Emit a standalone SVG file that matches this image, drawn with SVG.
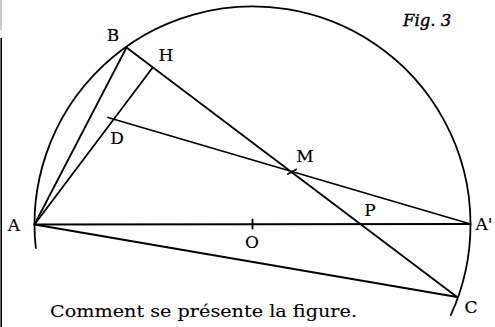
<svg xmlns="http://www.w3.org/2000/svg" width="495" height="327" viewBox="0 0 495 327">
<style>
.ln{stroke:#000;stroke-width:1.8;fill:none;stroke-linecap:round}
.lbl{font-family:"DejaVu Serif","Liberation Serif",serif;font-size:17px;fill:#000;stroke:#000;stroke-width:0.2;text-anchor:middle}
.cap{font-family:"DejaVu Serif","Liberation Serif",serif;font-size:17px;fill:#000;stroke:#000;stroke-width:0.1}
.fig{font-family:"DejaVu Serif","Liberation Serif",serif;font-size:16.5px;font-style:italic;fill:#000;stroke:#000;stroke-width:0.4}
</style>
<rect width="495" height="327" fill="#fff"/>
<g id="border">
<line x1="1" y1="0" x2="1" y2="30" stroke="#999" stroke-width="1"/>
<line x1="1.2" y1="38" x2="1.2" y2="327" stroke="#000" stroke-width="1.6"/>
</g>
<g id="circle">
<path class="ln" d="M35.8,248 A218,218 0 1 1 450.8,315"/>
</g>
<g id="connectors">
<line class="ln" x1="34.5" y1="224.5" x2="470.5" y2="224"/>
<line class="ln" x1="34.5" y1="224.5" x2="457" y2="297"/>
<line class="ln" x1="34.5" y1="224.5" x2="126.5" y2="47.5"/>
<line class="ln" x1="34.5" y1="224.5" x2="152.5" y2="67.8"/>
<line class="ln" x1="126.5" y1="47.5" x2="457" y2="297"/>
<line class="ln" x1="108" y1="117.5" x2="470.5" y2="224"/>
<line class="ln" x1="252.5" y1="219.5" x2="252.5" y2="228.5"/>
<line class="ln" x1="288" y1="174" x2="296" y2="169.5"/>
</g>
<g id="labels">
<text class="lbl" x="113" y="41">B</text>
<text class="lbl" x="166" y="61">H</text>
<text class="lbl" x="117" y="144">D</text>
<text class="lbl" x="305" y="162">M</text>
<text class="lbl" x="370" y="216">P</text>
<text class="lbl" x="14" y="231">A</text>
<text class="lbl" x="252" y="248">O</text>
<text class="lbl" x="484" y="230">A'</text>
<text class="lbl" x="471" y="313">C</text>
<text class="fig" x="403" y="26">Fig. 3</text>
<text class="cap" x="50" y="317" textLength="307" lengthAdjust="spacingAndGlyphs">Comment se présente la figure.</text>
</g>
</svg>
